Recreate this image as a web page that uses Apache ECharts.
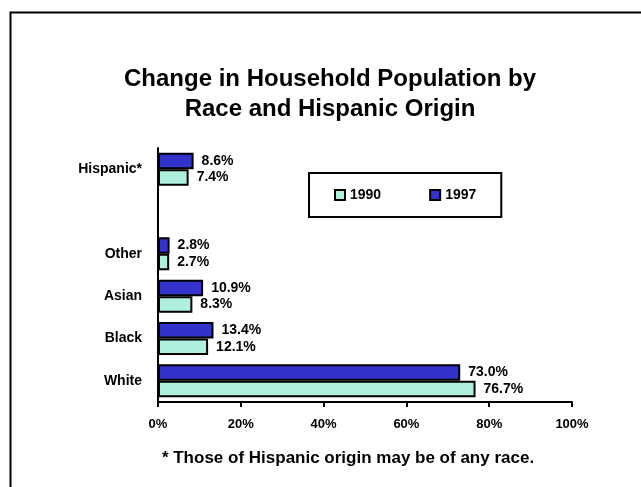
<!DOCTYPE html>
<html>
<head>
<meta charset="utf-8">
<script src="https://cdn.jsdelivr.net/npm/echarts@6/dist/echarts.min.js"></script>
<style>html,body{margin:0;padding:0;background:#fff}#c{width:641px;height:487px}</style>
</head>
<body>
<div id="c"></div>
<script>
const categories = ['White', 'Black', 'Asian', 'Other', '', 'Hispanic*'];
const values1990 = [76.7, 12.1, 8.3, 2.7, null, 7.4];
const values1997 = [73.0, 13.4, 10.9, 2.8, null, 8.6];
const xTicks = [0, 20, 40, 60, 80, 100];
const footnote = '* Those of Hispanic origin may be of any race.';

const chart = echarts.init(document.getElementById('c'));
const font = 'Arial, "Liberation Sans", sans-serif';
const lbl = {
  show: true, position: 'right', distance: 8,
  fontFamily: font, fontWeight: 'bold', fontSize: 14, color: '#000',
  formatter: p => p.value.toFixed(1) + '%'
};
chart.setOption({
  animation: false,
  backgroundColor: '#fff',
  title: {
    text: 'Change in Household Population by\nRace and Hispanic Origin',
    left: 330, top: 64, textAlign: 'center', padding: 0,
    textStyle: { fontFamily: font, fontWeight: 'bold', fontSize: 24, lineHeight: 30, color: '#000' }
  },
  graphic: [{
    type: 'rect', left: 8, top: 10,
    shape: { width: 700, height: 600 },
    style: { fill: 'none', stroke: '#000', lineWidth: 2 }
  }, {
    type: 'text', x: 348, y: 458,
    style: {
      text: footnote, textAlign: 'center', textVerticalAlign: 'middle',
      font: 'bold 17px Arial, "Liberation Sans", sans-serif', fill: '#000'
    }
  }],
  legend: {
    left: 309, top: 173,
    orient: 'horizontal',
    padding: [15, 25, 15, 25],
    itemGap: 48,
    itemWidth: 10, itemHeight: 10,
    borderColor: '#000', borderWidth: 2,
    icon: 'rect',
    data: ['1990', '1997'],
    textStyle: { fontFamily: font, fontWeight: 'bold', fontSize: 14, color: '#000' }
  },
  grid: { left: 158, right: 69, top: 148, bottom: 85, containLabel: false },
  xAxis: {
    type: 'value', min: xTicks[0], max: xTicks[xTicks.length - 1], interval: 20,
    axisLine: { show: true, lineStyle: { color: '#000', width: 2 } },
    axisTick: { show: true, inside: false, length: 5, lineStyle: { color: '#000', width: 2 } },
    splitLine: { show: false },
    axisLabel: { formatter: '{value}%', fontFamily: font, fontWeight: 'bold', fontSize: 13, color: '#000', margin: 16 }
  },
  yAxis: {
    type: 'category', data: categories,
    axisLine: { show: true, lineStyle: { color: '#000', width: 2 } },
    axisTick: { show: false },
    axisLabel: { fontFamily: font, fontWeight: 'bold', fontSize: 14, color: '#000', margin: 16 }
  },
  series: [
    {
      name: '1997', type: 'bar', data: values1997,
      barGap: '0%', barCategoryGap: '22%',
      itemStyle: { color: '#3333CC', borderColor: '#000', borderWidth: 2 },
      label: lbl
    },
    {
      name: '1990', type: 'bar', data: values1990,
      barGap: '0%', barCategoryGap: '22%',
      itemStyle: { color: '#AEEFDD', borderColor: '#000', borderWidth: 2 },
      label: lbl
    }
  ]
});
</script>
</body>
</html>
